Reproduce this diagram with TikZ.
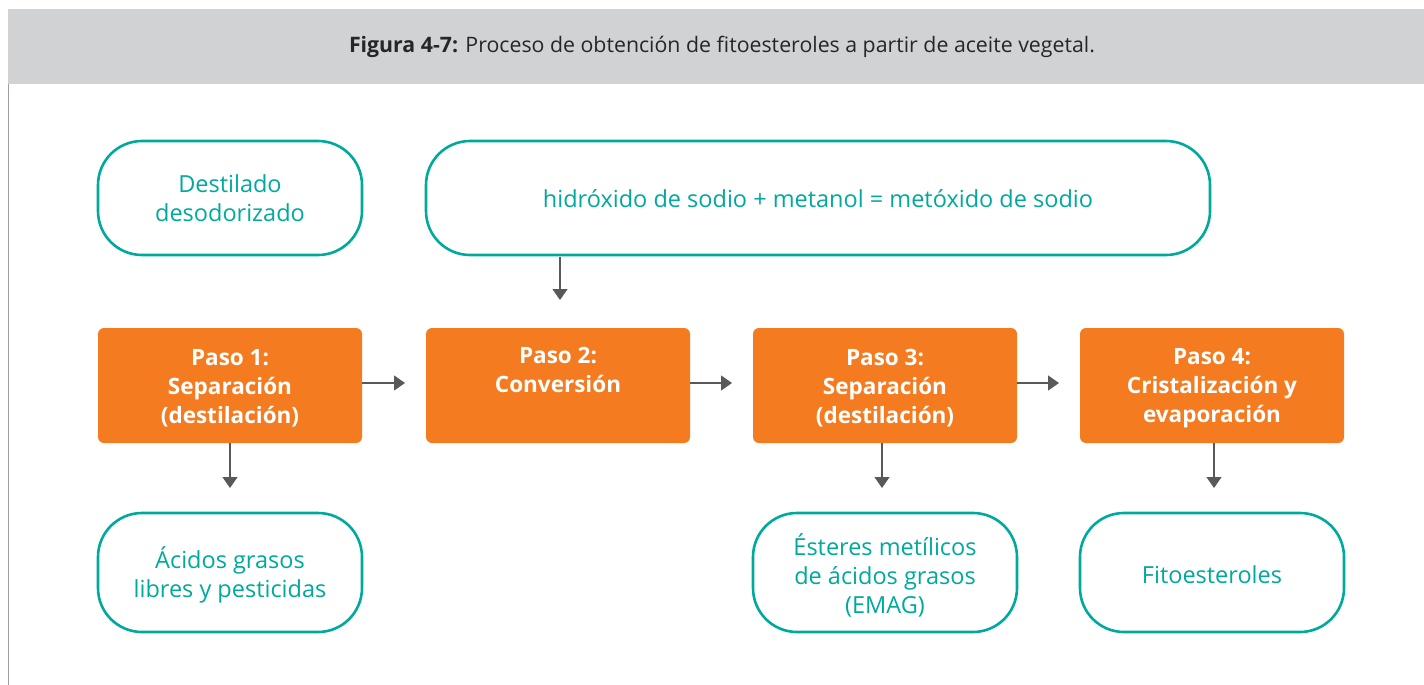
\documentclass[tikz,border=0pt]{standalone}
\usepackage{fontspec}
\setmainfont{Open Sans}
\usetikzlibrary{arrows.meta}
\definecolor{teal1}{HTML}{00A99D}
\definecolor{orange1}{HTML}{F47B20}
\definecolor{hdr}{HTML}{D1D2D4}
\definecolor{arr}{HTML}{58595B}
\definecolor{border}{HTML}{9D9D9D}
\tikzset{
  tbox/.style={draw=teal1, line width=2.6pt, rounded corners=44pt, fill=white, text=teal1,
    font=\fontsize{23.5}{29}\selectfont, align=center, inner sep=0pt},
  obox/.style={fill=orange1, rounded corners=6pt, minimum width=264pt, minimum height=115pt, inner sep=0pt},
  otext/.style={text=white, font=\fontsize{22.5}{29}\selectfont\bfseries, align=center, inner sep=0pt, yshift=-3pt},
  conn/.style={draw=arr, line width=1.4pt, -{Triangle[length=11pt,width=15pt]}},
}
\begin{document}
\begin{tikzpicture}[x=1pt,y=-1pt]
\useasboundingbox (0,0) rectangle (1424,685);
\fill[hdr] (8,9) rectangle (1424,84);
\draw[border, line width=1pt] (8.5,84) -- (8.5,685);
\node[font=\fontsize{21.3}{24}\selectfont, text=black!85] (title) at (722,47)
  {\textbf{Figura 4-7:} Proceso de obtención de fitoesteroles a partir de aceite vegetal.};
% top row
\draw[tbox] (98,141) rectangle (362,255);
\node[tbox, draw=none, fill=none, minimum width=264pt, minimum height=114pt] (dest) at (230,198.5) {Destilado\\desodorizado};
\draw[tbox] (426,141) rectangle (1210,255);
\node[tbox, draw=none, fill=none, minimum width=784pt, minimum height=114pt] (hid) at (818,198.5) {hidróxido de sodio + metanol = metóxido de sodio};
% orange
\node[obox, label={[otext]center:{Paso 1:\\Separación\\(destilación)}}] (p1) at (230,385.5) {};
\node[obox, label={[otext]center:{Paso 2:\\Conversión\\\strut}}] (p2) at (558,385.5) {};
\node[obox, label={[otext]center:{Paso 3:\\Separación\\(destilación)}}] (p3) at (885,385.5) {};
\node[obox, label={[otext]center:{Paso 4:\\Cristalización y\\evaporación}}] (p4) at (1212,385.5) {};
% bottom
\draw[tbox] (98,513) rectangle (362,632);
\node[tbox, draw=none, fill=none, minimum width=264pt, minimum height=119pt] (acid) at (230,575) {Ácidos grasos\\libres y pesticidas};
\draw[tbox] (753,513) rectangle (1017,632);
\node[tbox, draw=none, fill=none, minimum width=264pt, minimum height=119pt] (est) at (885,575) {Ésteres metílicos\\de ácidos grasos\\(EMAG)};
\draw[tbox] (1080,513) rectangle (1344,632);
\node[tbox, draw=none, fill=none, minimum width=264pt, minimum height=119pt] (fito) at (1212,574.5) {Fitoesteroles};
% connectors
\coordinate (a1) at (560,300);
\draw[conn] (hid.south -| a1) -- (a1);
\coordinate (b1) at (230,488);
\draw[conn] (p1.south -| b1) -- (b1);
\coordinate (b3) at (882,488);
\draw[conn] (p3.south -| b3) -- (b3);
\coordinate (b4) at (1214,488);
\draw[conn] (p4.south -| b4) -- (b4);
\coordinate (h1) at (405,383);
\draw[conn] (p1.east |- h1) -- (h1);
\coordinate (h2) at (732,383);
\draw[conn] (p2.east |- h2) -- (h2);
\coordinate (h3) at (1059,383);
\draw[conn] (p3.east |- h3) -- (h3);
\end{tikzpicture}
\end{document}
